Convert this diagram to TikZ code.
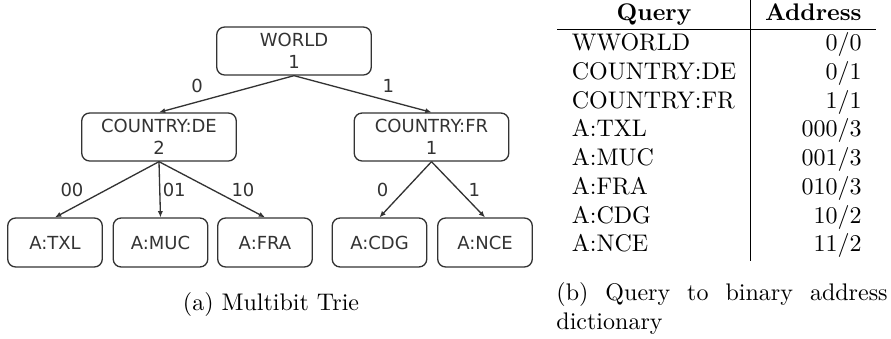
\documentclass[tikz,border=0pt]{standalone}
\usepackage{fontspec}
\newfontfamily\treefont{DejaVu Sans}
\usetikzlibrary{arrows.meta}
\definecolor{ink}{HTML}{333333}
\begin{document}
\begin{tikzpicture}[x=0.41667pt, y=-0.41667pt,
  tbox/.style={draw=ink, line width=0.55pt, rounded corners=3.3pt, align=center,
    font=\treefont\fontsize{7.5}{9}\selectfont, text=ink, inner sep=0pt},
  wide/.style={tbox, minimum width=64.4pt, minimum height=20pt},
  leaf/.style={tbox, minimum width=39.4pt, minimum height=20.4pt},
  link/.style={draw=ink, line width=0.55pt, -{Latex[length=2.6pt,width=2.2pt]}},
  elab/.style={font=\treefont\fontsize{7.5}{9}\selectfont, text=ink, inner sep=0pt}]
\useasboundingbox (0,0) rectangle (891,338);
% tree
\node[wide] (world) at (294,51) {WORLD\\1};
\node[wide] (de) at (159,137) {COUNTRY:DE\\2};
\node[wide] (fr) at (431.5,137) {COUNTRY:FR\\1};
\node[leaf] (txl) at (55,242.5) {A:TXL};
\node[leaf] (muc) at (160.5,242.5) {A:MUC};
\node[leaf] (fra) at (265,242.5) {A:FRA};
\node[leaf] (cdg) at (379.5,242.5) {A:CDG};
\node[leaf] (nce) at (485,242.5) {A:NCE};
\draw[link] (world.south) -- node[elab, shift={(-29.5,-8)}] (l0) {0} (de.north);
\draw[link] (world.south) -- node[elab, shift={(25.5,-8)}] (l1) {1} (fr.north);
\draw[link] (de.south) -- node[elab, shift={(-35,0)}] (l00) {00} (txl.north);
\draw[link] (de.south) -- node[elab, shift={(14.5,0)}] (l01) {01} (muc.north);
\draw[link] (de.south) -- node[elab, shift={(31,0)}] (l10) {10} (fra.north);
\draw[link] (fr.south) -- node[elab, shift={(-23,0)}] (lf0) {0} (cdg.north);
\draw[link] (fr.south) -- node[elab, shift={(16,0)}] (lf1) {1} (nce.north);
\node[inner sep=0pt] (capa) at (271,304) {(a) Multibit Trie};
% table
\node[anchor=north west, inner sep=0pt] (tab) at (557,0) {%
\begin{tabular}{l|r}
\multicolumn{1}{c|}{\textbf{Query}} & \textbf{Address}\\\hline
WWORLD & 0/0\\
COUNTRY:DE & 0/1\\
COUNTRY:FR & 1/1\\
A:TXL & 000/3\\
A:MUC & 001/3\\
A:FRA & 010/3\\
A:CDG & 10/2\\
A:NCE & 11/2
\end{tabular}};
\node[anchor=north west, inner sep=0pt, text width=138pt, align=justify] (capb) at (556,282)
  {\hbadness=10000 (b) Query to binary address \mbox{dictionary}};
\end{tikzpicture}
\end{document}
